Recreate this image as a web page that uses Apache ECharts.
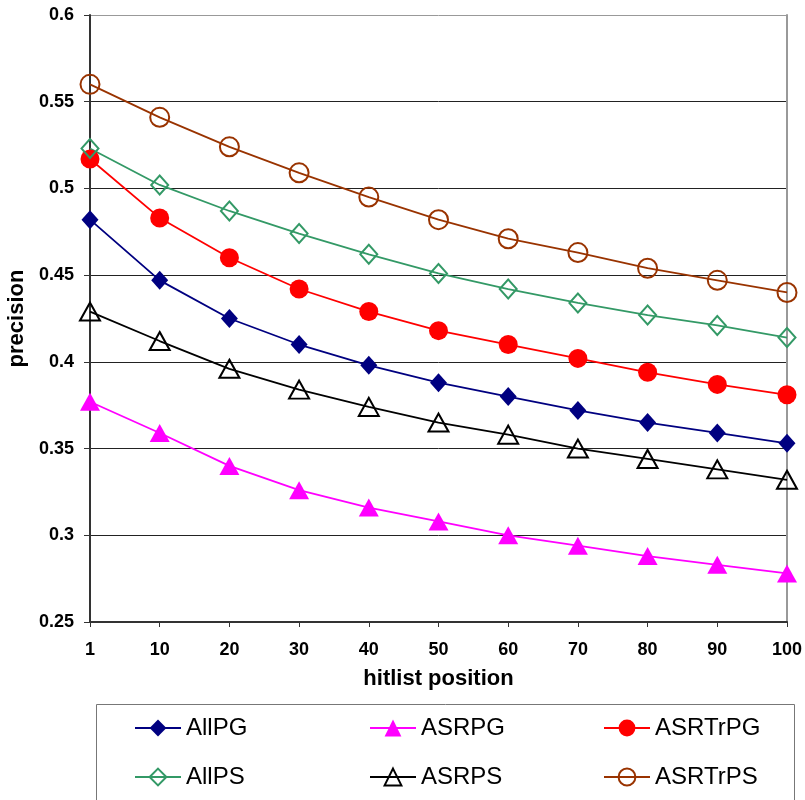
<!DOCTYPE html>
<html>
<head>
<meta charset="utf-8">
<script src="https://cdn.jsdelivr.net/npm/echarts@6/dist/echarts.min.js"></script>
<style>
  html, body { margin: 0; padding: 0; background: #fff; }
  #chart { width: 805px; height: 800px; }
</style>
</head>
<body>
<div id="chart"></div>
<script>
// Hitlist positions (x axis categories)
const positions = ['1', '10', '20', '30', '40', '50', '60', '70', '80', '90', '100'];

// Precision at each hitlist position
const allPG    = [0.482, 0.447, 0.425, 0.410, 0.398, 0.388, 0.380, 0.372, 0.365, 0.359, 0.353];
const asrPG    = [0.377, 0.359, 0.340, 0.326, 0.316, 0.308, 0.300, 0.294, 0.288, 0.283, 0.278];
const asrTrPG  = [0.517, 0.483, 0.460, 0.442, 0.429, 0.418, 0.410, 0.402, 0.394, 0.387, 0.381];
const allPS    = [0.523, 0.502, 0.487, 0.474, 0.462, 0.451, 0.442, 0.434, 0.427, 0.421, 0.414];
const asrPS    = [0.429, 0.412, 0.396, 0.384, 0.374, 0.365, 0.358, 0.350, 0.344, 0.338, 0.332];
const asrTrPS  = [0.560, 0.541, 0.524, 0.509, 0.495, 0.482, 0.471, 0.463, 0.454, 0.447, 0.440];

// Y axis ticks
const yMin = 0.25, yMax = 0.6, yStep = 0.05;

const FONT = 'Arial, "Liberation Sans", Helvetica, sans-serif';

function lineSeries(name, data, color, symbol, size, filled) {
  return {
    name: name,
    type: 'line',
    data: data,
    symbol: symbol,
    symbolSize: size,
    showAllSymbol: true,
    lineStyle: { color: color, width: 1.8 },
    itemStyle: filled
      ? { color: color, borderWidth: 0 }
      : { color: 'rgba(255,255,255,0)', borderColor: color, borderWidth: 2 },
    emphasis: { disabled: true },
    animation: false
  };
}

const series = [
  lineSeries('AllPG',   allPG,   '#000080', 'diamond',  [17, 19], true),
  lineSeries('ASRPG',   asrPG,   '#FF00FF', 'triangle', [20, 18], true),
  lineSeries('ASRTrPG', asrTrPG, '#FF0000', 'circle',   19, true),
  lineSeries('AllPS',   allPS,   '#339966', 'diamond',  [17, 19], false),
  lineSeries('ASRPS',   asrPS,   '#000000', 'triangle', [20, 18], false),
  lineSeries('ASRTrPS', asrTrPS, '#993300', 'circle',   19, false)
];

function legendColumn(left, names) {
  return {
    orient: 'vertical',
    left: left,
    top: 716,
    padding: 0,
    itemWidth: 46,
    itemHeight: 21,
    itemGap: 25,
    data: names,
    selectedMode: false,
    textStyle: { fontFamily: FONT, fontSize: 24, color: '#000' }
  };
}

const chart = echarts.init(document.getElementById('chart'), null, { renderer: 'canvas' });

chart.setOption({
  backgroundColor: '#fff',
  animation: false,
  grid: { left: 90, right: 18, top: 15, bottom: 178, containLabel: false, outerBoundsMode: 'none' },
  xAxis: {
    type: 'category',
    data: positions,
    boundaryGap: false,
    name: 'hitlist position',
    nameLocation: 'middle',
    nameGap: 46,
    nameTextStyle: { fontFamily: FONT, fontSize: 22, fontWeight: 'bold', color: '#000' },
    axisLine: { lineStyle: { color: '#333', width: 2 } },
    axisTick: { show: true, length: 5, alignWithLabel: true, lineStyle: { color: '#333', width: 1 } },
    axisLabel: { fontFamily: FONT, fontSize: 18, fontWeight: 'bold', color: '#000', margin: 19, interval: 0 },
    splitLine: { show: false }
  },
  yAxis: [{
    type: 'value',
    min: yMin,
    max: yMax,
    interval: yStep,
    name: 'precision',
    nameLocation: 'middle',
    nameGap: 61,
    nameRotate: 90,
    nameTextStyle: { fontFamily: FONT, fontSize: 22, fontWeight: 'bold', color: '#000' },
    axisLine: { show: true, lineStyle: { color: '#333', width: 2 } },
    axisTick: { show: true, length: 6, lineStyle: { color: '#333', width: 1 } },
    axisLabel: {
      fontFamily: FONT, fontSize: 18, fontWeight: 'bold', color: '#000', margin: 16,
      formatter: v => String(+v.toFixed(2))
    },
    splitLine: {
      show: true,
      lineStyle: { color: ['#222', '#222', '#222', '#222', '#222', '#222', '#222', '#999'], width: 1 }
    }
  }, {
    // right-hand frame of the plot area
    type: 'value',
    position: 'right',
    min: yMin,
    max: yMax,
    interval: yStep,
    axisLine: { show: true, lineStyle: { color: '#999', width: 2 } },
    axisTick: { show: false },
    axisLabel: { show: false },
    splitLine: { show: false }
  }],
  legend: [
    legendColumn(134, ['AllPG', 'AllPS']),
    legendColumn(369, ['ASRPG', 'ASRPS']),
    legendColumn(603, ['ASRTrPG', 'ASRTrPS'])
  ],
  graphic: [{
    type: 'rect',
    shape: { x: 96.5, y: 704.5, width: 698, height: 120 },
    style: { fill: 'none', stroke: '#777', lineWidth: 1 },
    silent: true,
    z: -1
  }],
  series: series
});
</script>
</body>
</html>
